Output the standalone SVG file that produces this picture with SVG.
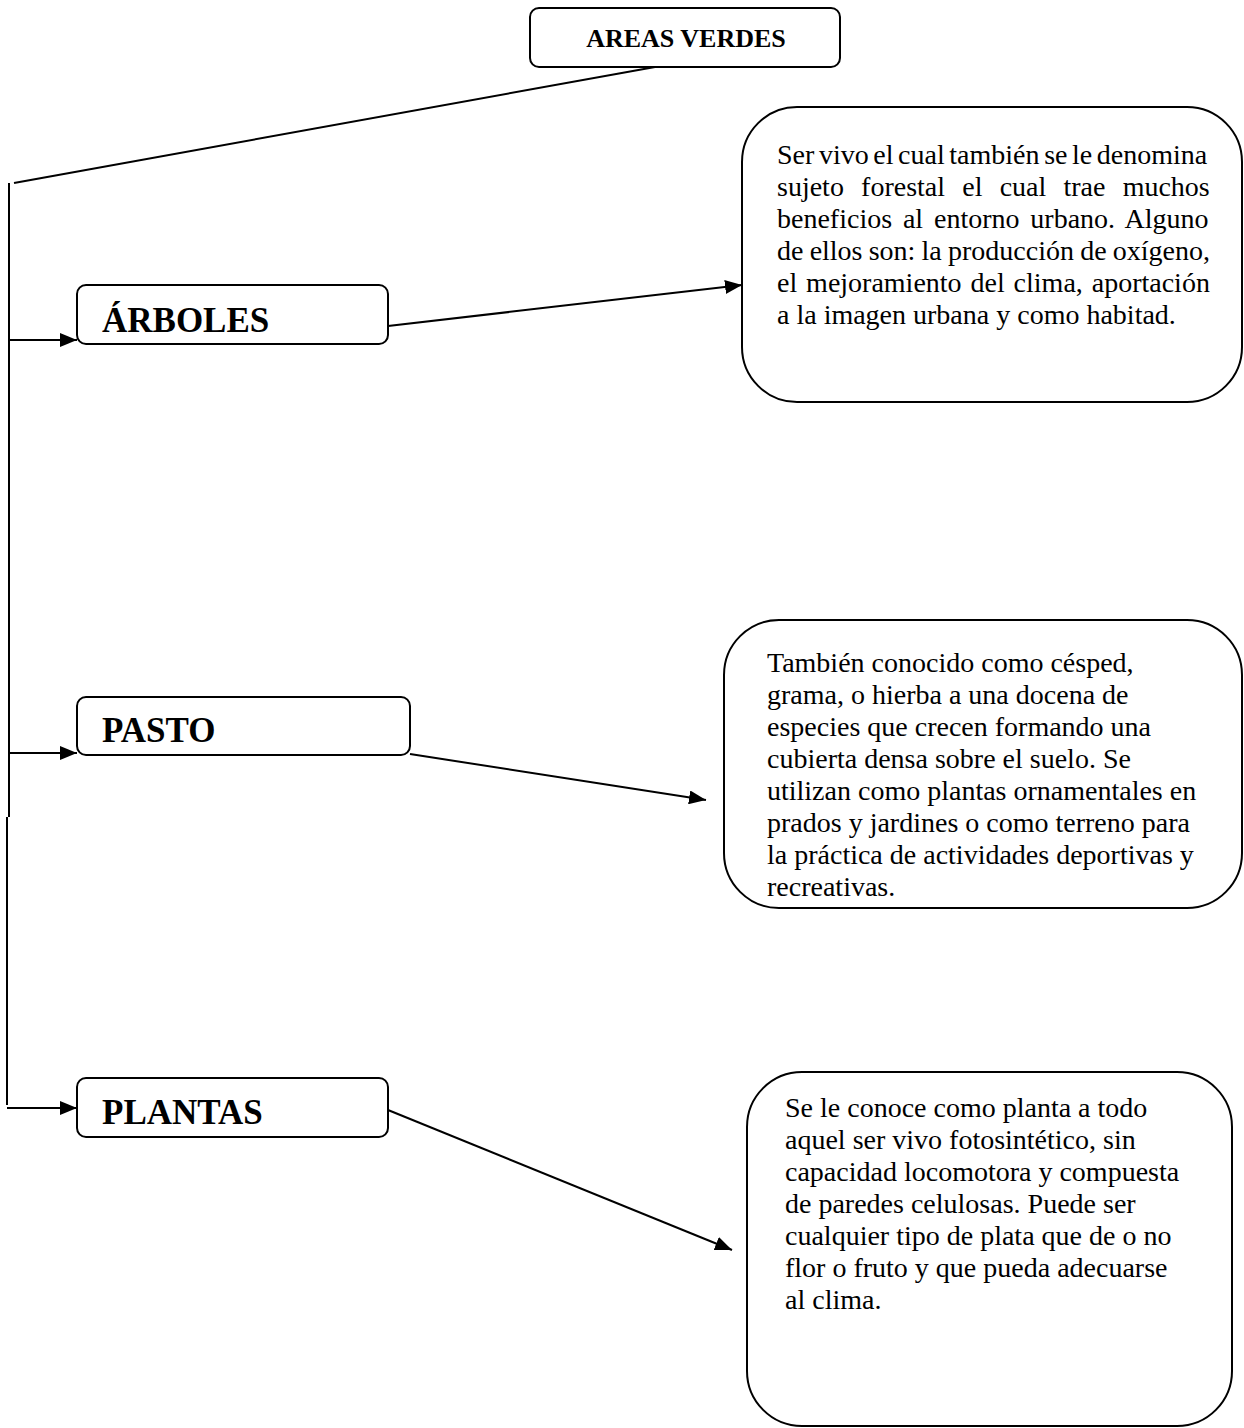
<svg xmlns="http://www.w3.org/2000/svg" width="1244" height="1428" viewBox="0 0 1244 1428">
<style>
.box{fill:#fff;stroke:#000;stroke-width:2}
.lbl{font-family:"Liberation Serif","Times New Roman",serif;font-weight:bold;fill:#000}
.body{font-family:"Liberation Serif","Times New Roman",serif;font-size:28px;fill:#000}
.con{stroke:#000;stroke-width:2;fill:none}
</style>
<defs>
<marker id="ah" markerUnits="userSpaceOnUse" markerWidth="18" markerHeight="14" refX="17" refY="7" orient="auto">
<path d="M0,0 L17,7 L0,14 Z" fill="#000"/>
</marker>
</defs>
<rect width="1244" height="1428" fill="#fff"/>
<g id="connectors">
<line class="con" x1="655" y1="67" x2="14" y2="183"/>
<line class="con" x1="9" y1="183" x2="9" y2="817"/>
<line class="con" x1="7" y1="817" x2="7" y2="1105"/>
<line class="con" x1="9" y1="340" x2="77" y2="340" marker-end="url(#ah)"/>
<line class="con" x1="9" y1="753" x2="77" y2="753" marker-end="url(#ah)"/>
<line class="con" x1="7" y1="1108" x2="77" y2="1108" marker-end="url(#ah)"/>
<line class="con" x1="388" y1="326" x2="742" y2="285" marker-end="url(#ah)"/>
<line class="con" x1="410" y1="754" x2="706" y2="800" marker-end="url(#ah)"/>
<line class="con" x1="388" y1="1110" x2="732" y2="1250" marker-end="url(#ah)"/>
</g>
<g id="areas-verdes">
<rect class="box" x="530" y="8" width="310" height="59" rx="9"/>
<text class="lbl" x="686" y="47" font-size="26" text-anchor="middle">AREAS VERDES</text>
</g>
<g id="arboles">
<rect class="box" x="77" y="285" width="311" height="59" rx="9"/>
<text class="lbl" x="102" y="332" font-size="35">ÁRBOLES</text>
</g>
<g id="pasto">
<rect class="box" x="77" y="697" width="333" height="58" rx="9"/>
<text class="lbl" x="102" y="742" font-size="35">PASTO</text>
</g>
<g id="plantas">
<rect class="box" x="77" y="1078" width="311" height="59" rx="9"/>
<text class="lbl" x="102" y="1124" font-size="35">PLANTAS</text>
</g>
<g id="desc-arboles">
<rect class="box" x="742" y="107" width="500" height="295" rx="55"/>
<text class="body" x="777" y="164" word-spacing="-2.4">Ser vivo el cual también se le denomina</text>
<text class="body" x="777" y="196" word-spacing="10.2">sujeto forestal el cual trae muchos</text>
<text class="body" x="777" y="228" word-spacing="3.85">beneficios al entorno urbano. Alguno</text>
<text class="body" x="777" y="260" word-spacing="-0.8">de ellos son: la producción de oxígeno,</text>
<text class="body" x="777" y="292" word-spacing="1.9">el mejoramiento del clima, aportación</text>
<text class="body" x="777" y="324">a la imagen urbana y como habitad.</text>
</g>
<g id="desc-pasto">
<rect class="box" x="724" y="620" width="518" height="288" rx="55"/>
<text class="body" x="767" y="672">También conocido como césped,</text>
<text class="body" x="767" y="704">grama, o hierba a una docena de</text>
<text class="body" x="767" y="736">especies que crecen formando una</text>
<text class="body" x="767" y="768">cubierta densa sobre el suelo. Se</text>
<text class="body" x="767" y="800">utilizan como plantas ornamentales en</text>
<text class="body" x="767" y="832">prados y jardines o como terreno para</text>
<text class="body" x="767" y="864">la práctica de actividades deportivas y</text>
<text class="body" x="767" y="896">recreativas.</text>
</g>
<g id="desc-plantas">
<rect class="box" x="747" y="1072" width="485" height="354" rx="55"/>
<text class="body" x="785" y="1117">Se le conoce como planta a todo</text>
<text class="body" x="785" y="1149">aquel ser vivo fotosintético, sin</text>
<text class="body" x="785" y="1181">capacidad locomotora y compuesta</text>
<text class="body" x="785" y="1213">de paredes celulosas. Puede ser</text>
<text class="body" x="785" y="1245">cualquier tipo de plata que de o no</text>
<text class="body" x="785" y="1277">flor o fruto y que pueda adecuarse</text>
<text class="body" x="785" y="1309">al clima.</text>
</g>
</svg>
